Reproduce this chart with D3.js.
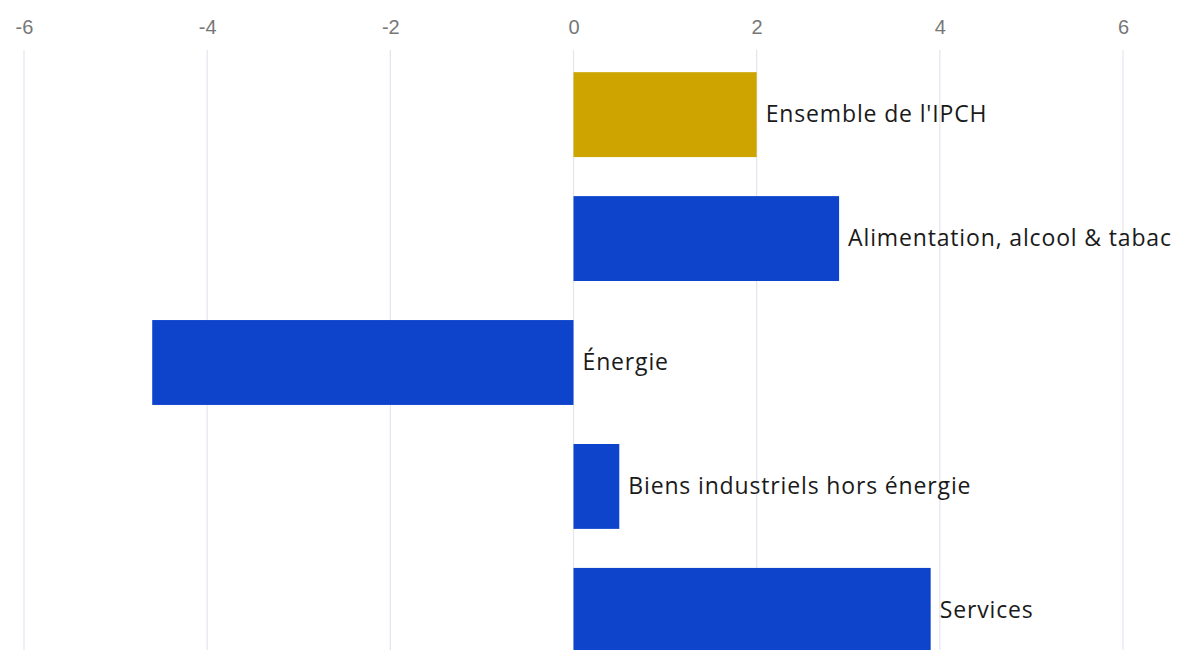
<!DOCTYPE html>
<html>
<head>
<meta charset="utf-8">
<script src="https://cdn.jsdelivr.net/npm/d3@7"></script>
<style>
  html, body { margin: 0; padding: 0; background: #fff; overflow: hidden; }
  svg { display: block; }
</style>
</head>
<body>
<div id="chart"></div>
<script>
// Données
const categories = ["Ensemble de l'IPCH", "Alimentation, alcool & tabac", "Énergie", "Biens industriels hors énergie", "Services"];
const values = [2.0, 2.9, -4.6, 0.5, 3.9];
const barColors = ["#CDA400", "#0E44CC", "#0E44CC", "#0E44CC", "#0E44CC"];
const tickValues = [-6, -4, -2, 0, 2, 4, 6];

const width = 1178, height = 650;

const svg = d3.select('#chart').append('svg')
    .attr('width', width)
    .attr('height', height);

// Échelles
const x = d3.scaleLinear().domain([-6, 6]).range([24, 1123]);
const y = d3.scaleBand()
    .domain(categories)
    .range([35, 690])
    .paddingInner(0.315)
    .paddingOuter(0.3);

// Grille verticale
svg.append('g')
    .selectAll('line')
    .data(tickValues)
    .enter()
    .append('line')
    .attr('x1', d => x(d))
    .attr('x2', d => x(d))
    .attr('y1', 50)
    .attr('y2', height)
    .attr('stroke', '#E4E4EE')
    .attr('stroke-width', 1.2);

// Axe du haut
const axis = svg.append('g')
    .attr('transform', 'translate(0,34)')
    .call(d3.axisTop(x).tickValues(tickValues).tickFormat(d => String(d)).tickSize(0).tickPadding(0));
axis.select('.domain').remove();
axis.selectAll('text')
    .attr('fill', '#777')
    .style('font-family', '"Liberation Sans", Arial, sans-serif')
    .style('font-size', '20px');

// Barres
svg.append('g')
    .selectAll('rect')
    .data(values)
    .enter()
    .append('rect')
    .attr('x', d => x(Math.min(0, d)))
    .attr('y', (d, i) => y(categories[i]))
    .attr('width', d => Math.abs(x(d) - x(0)))
    .attr('height', y.bandwidth())
    .attr('fill', (d, i) => barColors[i]);

// Étiquettes
svg.append('g')
    .selectAll('text')
    .data(values)
    .enter()
    .append('text')
    .attr('x', d => x(Math.max(0, d)) + 9)
    .attr('y', (d, i) => y(categories[i]) + y.bandwidth() / 2)
    .attr('dy', '0.33em')
    .attr('fill', '#1a1a1a')
    .style('font-family', '"Open Sans", "Noto Sans", sans-serif')
    .style('font-size', '23px')
    .style('letter-spacing', '0.85px')
    .text((d, i) => categories[i]);
</script>
</body>
</html>
